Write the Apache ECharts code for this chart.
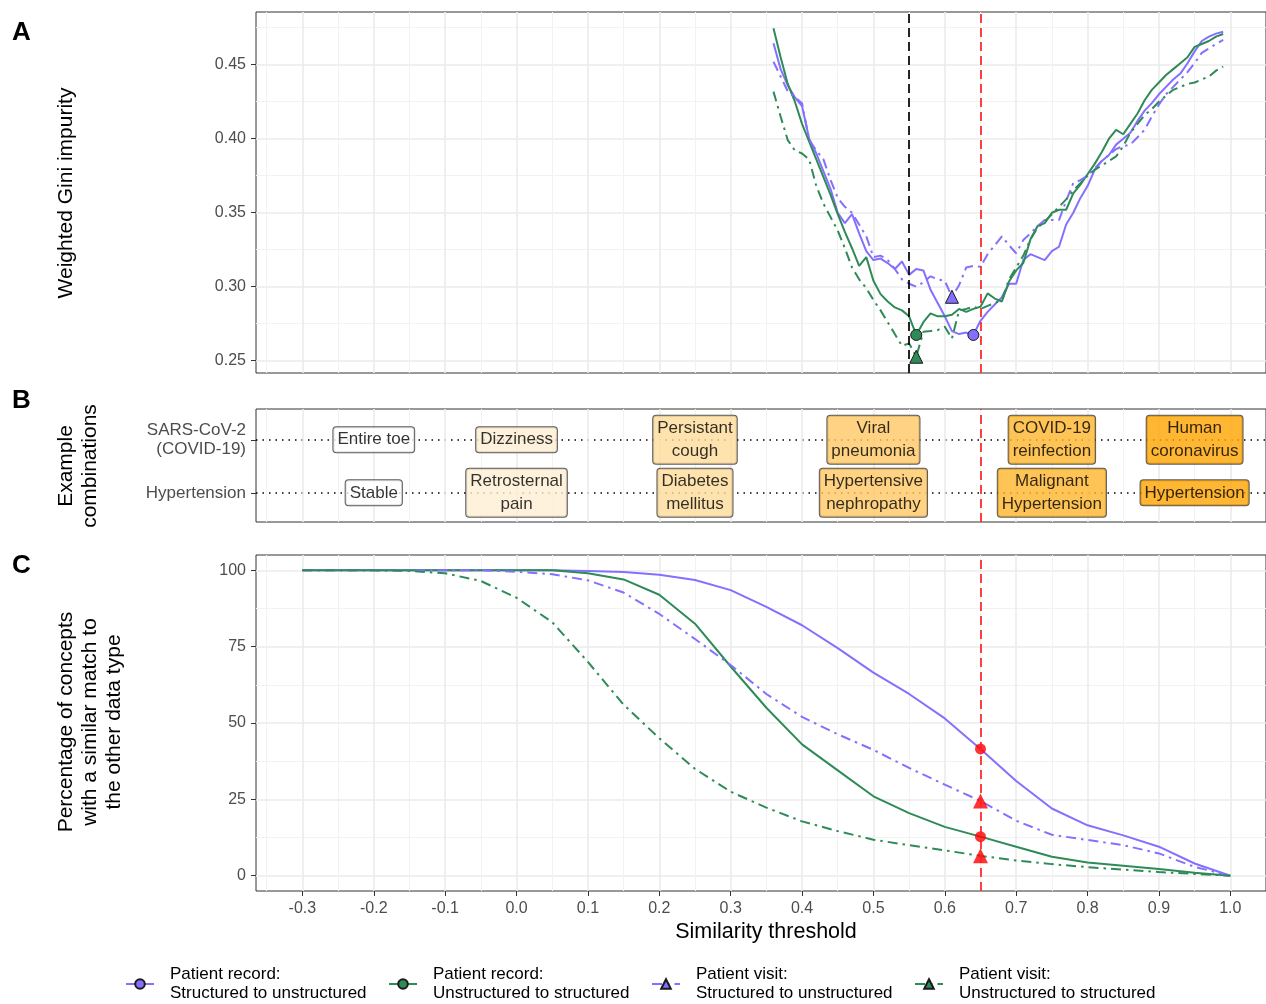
<!DOCTYPE html>
<html>
<head>
<meta charset="utf-8">
<script src="https://cdn.jsdelivr.net/npm/echarts@6/dist/echarts.min.js"></script>
<style>
  html, body { margin: 0; padding: 0; background: #fff; }
  #chart { width: 1266px; height: 1004px; }
</style>
</head>
<body>
<div id="chart"></div>
<script>
// ---- tick values ----
const xMajor = [-0.3, -0.2, -0.1, 0, 0.1, 0.2, 0.3, 0.4, 0.5, 0.6, 0.7, 0.8, 0.9, 1.0];
const xMinor = [-0.35, -0.25, -0.15, -0.05, 0.05, 0.15, 0.25, 0.35, 0.45, 0.55, 0.65, 0.75, 0.85, 0.95, 1.05];
const giniMajor = [0.25, 0.30, 0.35, 0.40, 0.45];
const giniMinor = [0.275, 0.325, 0.375, 0.425, 0.475];
const pctMajor = [0, 25, 50, 75, 100];
const pctMinor = [12.5, 37.5, 62.5, 87.5];

const threshold = 0.65;   // red dashed line
const refLine = 0.55;     // black dashed line (panel A)

// ---- panel A: weighted Gini impurity by similarity threshold ----
const giniRecS2U = [[0.36,0.4645],[0.37,0.447],[0.38,0.436],[0.39,0.428],[0.40,0.422],[0.41,0.400],[0.42,0.390],[0.43,0.378],[0.44,0.366],[0.45,0.350],[0.46,0.343],[0.47,0.349],[0.48,0.336],[0.49,0.324],[0.50,0.318],[0.51,0.319],[0.52,0.316],[0.53,0.312],[0.54,0.317],[0.55,0.308],[0.56,0.312],[0.57,0.311],[0.58,0.298],[0.59,0.289],[0.60,0.280],[0.61,0.270],[0.62,0.268],[0.63,0.269],[0.64,0.2674],[0.65,0.277],[0.66,0.283],[0.67,0.288],[0.68,0.293],[0.69,0.302],[0.70,0.302],[0.71,0.318],[0.72,0.322],[0.73,0.320],[0.74,0.318],[0.75,0.324],[0.76,0.327],[0.77,0.342],[0.78,0.350],[0.79,0.360],[0.80,0.368],[0.81,0.379],[0.82,0.385],[0.83,0.389],[0.84,0.396],[0.85,0.400],[0.86,0.404],[0.87,0.412],[0.88,0.419],[0.89,0.424],[0.90,0.430],[0.91,0.435],[0.92,0.440],[0.93,0.444],[0.94,0.451],[0.95,0.459],[0.96,0.466],[0.97,0.469],[0.98,0.471],[0.99,0.4723]];
const giniRecU2S = [[0.36,0.4746],[0.37,0.455],[0.38,0.437],[0.39,0.425],[0.40,0.410],[0.41,0.398],[0.42,0.386],[0.43,0.374],[0.44,0.362],[0.45,0.349],[0.46,0.337],[0.47,0.326],[0.48,0.314],[0.49,0.320],[0.50,0.304],[0.51,0.295],[0.52,0.290],[0.53,0.286],[0.54,0.284],[0.55,0.280],[0.56,0.2674],[0.57,0.276],[0.58,0.282],[0.59,0.280],[0.60,0.280],[0.61,0.281],[0.62,0.285],[0.63,0.283],[0.64,0.285],[0.65,0.2865],[0.66,0.2955],[0.67,0.292],[0.68,0.290],[0.69,0.3035],[0.70,0.311],[0.71,0.316],[0.72,0.332],[0.73,0.341],[0.74,0.343],[0.75,0.350],[0.76,0.352],[0.77,0.352],[0.78,0.363],[0.79,0.369],[0.80,0.376],[0.81,0.383],[0.82,0.391],[0.83,0.400],[0.84,0.406],[0.85,0.403],[0.86,0.410],[0.87,0.417],[0.88,0.426],[0.89,0.433],[0.90,0.438],[0.91,0.443],[0.92,0.447],[0.93,0.451],[0.94,0.455],[0.95,0.462],[0.96,0.464],[0.97,0.466],[0.98,0.469],[0.99,0.4707]];
const giniVisS2U = [[0.36,0.452],[0.37,0.442],[0.38,0.432],[0.39,0.428],[0.40,0.424],[0.41,0.399],[0.42,0.392],[0.43,0.386],[0.44,0.372],[0.45,0.360],[0.46,0.354],[0.47,0.350],[0.48,0.342],[0.49,0.334],[0.50,0.320],[0.51,0.321],[0.52,0.318],[0.53,0.312],[0.54,0.305],[0.55,0.302],[0.56,0.300],[0.57,0.303],[0.58,0.307],[0.59,0.305],[0.60,0.304],[0.61,0.2932],[0.62,0.301],[0.63,0.313],[0.64,0.314],[0.65,0.3135],[0.66,0.322],[0.67,0.328],[0.68,0.334],[0.69,0.328],[0.70,0.3226],[0.71,0.3315],[0.72,0.336],[0.73,0.341],[0.74,0.345],[0.75,0.345],[0.76,0.345],[0.77,0.358],[0.78,0.370],[0.79,0.372],[0.80,0.375],[0.81,0.380],[0.82,0.385],[0.83,0.389],[0.84,0.393],[0.85,0.395],[0.86,0.396],[0.87,0.401],[0.88,0.406],[0.89,0.415],[0.90,0.423],[0.91,0.430],[0.92,0.435],[0.93,0.440],[0.94,0.445],[0.95,0.451],[0.96,0.458],[0.97,0.461],[0.98,0.464],[0.99,0.4667]];
const giniVisU2S = [[0.36,0.4318],[0.37,0.415],[0.38,0.399],[0.39,0.392],[0.40,0.390],[0.41,0.386],[0.42,0.368],[0.43,0.356],[0.44,0.347],[0.45,0.338],[0.46,0.326],[0.47,0.313],[0.48,0.305],[0.49,0.299],[0.50,0.291],[0.51,0.284],[0.52,0.276],[0.53,0.268],[0.54,0.260],[0.55,0.2617],[0.56,0.2527],[0.57,0.2696],[0.58,0.270],[0.59,0.2707],[0.60,0.273],[0.61,0.265],[0.62,0.284],[0.63,0.285],[0.64,0.2865],[0.65,0.285],[0.66,0.287],[0.67,0.289],[0.68,0.291],[0.69,0.305],[0.70,0.313],[0.71,0.321],[0.72,0.332],[0.73,0.340],[0.74,0.344],[0.75,0.349],[0.76,0.354],[0.77,0.359],[0.78,0.365],[0.79,0.370],[0.80,0.375],[0.81,0.379],[0.82,0.382],[0.83,0.385],[0.84,0.388],[0.85,0.395],[0.86,0.404],[0.87,0.410],[0.88,0.416],[0.89,0.420],[0.90,0.425],[0.91,0.429],[0.92,0.433],[0.93,0.435],[0.94,0.437],[0.95,0.438],[0.96,0.440],[0.97,0.442],[0.98,0.446],[0.99,0.4487]];

// ---- panel B: example combinations ----
const bX = [-0.2, 0, 0.25, 0.5, 0.75, 0.95];
const rowNames = ['Hypertension', 'SARS-CoV-2\n(COVID-19)'];
const covidTerms = ['Entire toe', 'Dizziness', 'Persistant\ncough', 'Viral\npneumonia', 'COVID-19\nreinfection', 'Human\ncoronavirus'];
const hyperTerms = ['Stable', 'Retrosternal\npain', 'Diabetes\nmellitus', 'Hypertensive\nnephropathy', 'Malignant\nHypertension', 'Hypertension'];

// ---- panel C: % of concepts with a similar match ----
const simX = [-0.3,-0.25,-0.2,-0.15,-0.1,-0.05,0,0.05,0.1,0.15,0.2,0.25,0.3,0.35,0.4,0.45,0.5,0.55,0.6,0.65,0.7,0.75,0.8,0.85,0.9,0.95,1.0];
const pctRecS2U = [100,100,100,100,100,100,100,100,99.8,99.4,98.5,96.8,93.5,88,82,74.5,66.5,59.5,51.5,41.5,31,22,16.5,13.2,9.5,4,0];
const pctRecU2S = [100,100,100,100,100,100,100,100,99,97,92,82.5,68.5,55,43,34.5,26,20.5,16,12.8,9.5,6.2,4.3,3.3,2.2,1,0];
const pctVisS2U = [100,100,100,100,100,100,99.5,98.7,96.7,92.7,85.7,77.5,69,59.5,52,46.3,41.2,35.3,29.8,24.5,18,13.4,11.7,10,7.3,2.9,0];
const pctVisU2S = [100,100,100,99.8,99,96.5,91,83,70,56,45,35,27.5,22.3,17.8,14.6,11.8,10,8.3,6.5,5,3.8,2.8,2,1.2,0.6,0];

const FONT = 'Liberation Sans, Arial, sans-serif';
const PURPLE = '#8470FF';
const GREEN = '#2E8B57';
const DOTDASH = [10, 5, 2.5, 5];

const groups = [
  {name: 'Patient record:\nStructured to unstructured', color: PURPLE, dash: 'solid', symbol: 'circle', gini: giniRecS2U, pct: pctRecS2U},
  {name: 'Patient record:\nUnstructured to structured', color: GREEN, dash: 'solid', symbol: 'circle', gini: giniRecU2S, pct: pctRecU2S},
  {name: 'Patient visit:\nStructured to unstructured', color: PURPLE, dash: DOTDASH, symbol: 'triangle', gini: giniVisS2U, pct: pctVisS2U},
  {name: 'Patient visit:\nUnstructured to structured', color: GREEN, dash: DOTDASH, symbol: 'triangle', gini: giniVisU2S, pct: pctVisU2S}
];

const X_MIN = -0.365, X_MAX = 1.05;

function boxFill(x) {
  const t = Math.max(0, Math.min(1, (x - bX[0]) / (bX[bX.length - 1] - bX[0])));
  return 'rgb(255,' + Math.round(255 - t * 90) + ',' + Math.round(255 - t * 255) + ')';
}

function argMin(pairs) {
  let best = pairs[0];
  pairs.forEach(p => { if (p[1] < best[1]) best = p; });
  return best;
}

const tickLabel = {color: '#4D4D4D', fontSize: 16, fontFamily: FONT};
const majorGrid = {show: true, lineStyle: {color: '#EBEBEB', width: 1.6}};
const minorGrid = {show: true, lineStyle: {color: '#F2F2F2', width: 1}};
const noLine = {show: false, onZero: false};

function xAxes(gi, labelled) {
  return [
    {type: 'value', gridIndex: gi, position: 'bottom', min: X_MIN, max: X_MAX,
     axisLine: noLine,
     axisTick: {show: labelled, customValues: xMajor, length: 5, lineStyle: {color: '#333', width: 1}},
     axisLabel: {show: labelled, customValues: xMajor, formatter: v => v.toFixed(1), margin: 10, ...tickLabel},
     splitLine: majorGrid},
    {type: 'value', gridIndex: gi, min: X_MIN, max: X_MAX,
     axisLine: noLine, axisTick: {show: false, customValues: xMinor},
     axisLabel: {show: false}, splitLine: minorGrid}
  ];
}

function yAxes(gi, min, max, major, minor, fmt) {
  return [
    {type: 'value', gridIndex: gi, position: 'left', min: min, max: max,
     axisLine: noLine,
     axisTick: {show: true, customValues: major, length: 5, lineStyle: {color: '#333', width: 1}},
     axisLabel: {customValues: major, formatter: fmt, margin: 10, ...tickLabel},
     splitLine: majorGrid},
    {type: 'value', gridIndex: gi, min: min, max: max,
     axisLine: noLine, axisTick: {show: false, customValues: minor},
     axisLabel: {show: false}, splitLine: minorGrid}
  ];
}

const vLine = (x, color) => ({xAxis: x, lineStyle: {color: color, type: [9, 5], width: 1.7}});
const markLineBase = {silent: true, symbol: ['none', 'none'], label: {show: false}, animation: false};

const series = [];

// panel A lines + minima
groups.forEach((g, i) => {
  series.push({
    type: 'line', name: g.name, xAxisIndex: 0, yAxisIndex: 0,
    data: g.gini, symbol: g.symbol, symbolSize: 10, showSymbol: false,
    itemStyle: {color: g.color, borderColor: '#1a1a1a', borderWidth: 1},
    lineStyle: {color: g.color, width: 2, type: g.dash},
    markLine: i === 0 ? Object.assign({}, markLineBase, {data: [vLine(refLine, '#000'), vLine(threshold, '#FF2020')]}) : undefined,
    z: 3
  });
});
groups.forEach(g => {
  series.push({
    type: 'scatter', name: 'min-' + g.name, xAxisIndex: 0, yAxisIndex: 0,
    data: [argMin(g.gini)], symbol: g.symbol, symbolSize: g.symbol === 'circle' ? 11 : 13,
    itemStyle: {color: g.color, borderColor: '#1a1a1a', borderWidth: 1, opacity: 1},
    z: 4
  });
});

// panel B labels
function rowSeries(terms, row, withLine) {
  return {
    type: 'scatter', name: 'row' + row, xAxisIndex: 2, yAxisIndex: 2,
    symbol: 'rect', symbolSize: 1, itemStyle: {color: 'rgba(0,0,0,0)'}, z: 5, silent: true,
    label: {show: true, position: 'inside', formatter: '{b}', color: '#000', fontSize: 17, fontFamily: FONT,
            lineHeight: 23, padding: [1, 4], borderColor: '#333', borderWidth: 1, borderRadius: 3},
    data: terms.map((t, i) => ({name: t, value: [bX[i], row], label: {backgroundColor: boxFill(bX[i])}})),
    markLine: withLine ? Object.assign({}, markLineBase, {data: [vLine(threshold, '#FF2020')]}) : undefined
  };
}
series.push(rowSeries(covidTerms, 2, true));
series.push(rowSeries(hyperTerms, 1, false));

// panel C lines
groups.forEach((g, i) => {
  series.push({
    type: 'line', name: g.name, xAxisIndex: 4, yAxisIndex: 3,
    data: simX.map((x, k) => [x, g.pct[k]]), symbol: g.symbol, symbolSize: 10, showSymbol: false,
    itemStyle: {color: g.color, borderColor: '#1a1a1a', borderWidth: 1},
    lineStyle: {color: g.color, width: 2, type: g.dash},
    markLine: i === 0 ? Object.assign({}, markLineBase, {data: [vLine(threshold, '#FF2020')]}) : undefined,
    z: 3
  });
});
const thIdx = simX.indexOf(threshold);
groups.forEach(g => {
  series.push({
    type: 'scatter', name: 'th-' + g.name, xAxisIndex: 4, yAxisIndex: 3,
    data: [[threshold, g.pct[thIdx]]], symbol: g.symbol, symbolSize: g.symbol === 'circle' ? 11 : 15,
    itemStyle: {color: '#FF0000'}, z: 4
  });
});

const textStyle = (size, extra) => Object.assign({fontSize: size, fontFamily: FONT, fill: '#000', align: 'center', verticalAlign: 'middle'}, extra || {});

const option = {
  animation: false,
  backgroundColor: '#fff',
  grid: [
    {left: 256, top: 12, right: 0, height: 361, show: true, borderColor: '#333', borderWidth: 1, backgroundColor: '#fff'},
    {left: 256, top: 409, right: 0, height: 113, show: true, borderColor: '#333', borderWidth: 1, backgroundColor: '#fff'},
    {left: 256, top: 555, right: 0, height: 336, show: true, borderColor: '#333', borderWidth: 1, backgroundColor: '#fff'}
  ],
  xAxis: [].concat(xAxes(0, false), xAxes(1, false), xAxes(2, true)),
  yAxis: [].concat(
    yAxes(0, 0.2417, 0.4856, giniMajor, giniMinor, v => v.toFixed(2)),
    [{type: 'value', gridIndex: 1, position: 'left', min: 0.45, max: 2.58,
      axisLine: noLine,
      axisTick: {show: true, customValues: [1, 2], length: 5, lineStyle: {color: '#333', width: 1}},
      axisLabel: {customValues: [1, 2], formatter: v => rowNames[Math.round(v) - 1], margin: 10, lineHeight: 19, ...tickLabel, fontSize: 17},
      splitLine: {show: true, lineStyle: {color: '#000', width: 1.5, type: [1.5, 5]}}}],
    yAxes(2, -5, 105, pctMajor, pctMinor, v => String(v))
  ),
  legend: {
    data: groups.map(g => g.name),
    left: 120, top: 960, itemWidth: 28, itemHeight: 12, itemGap: 18,
    textStyle: {fontFamily: FONT, fontSize: 17, lineHeight: 19, color: '#000', width: 200, padding: [0, 0, 0, 11]}
  },
  graphic: [
    {type: 'text', x: 12, y: 33, style: textStyle(26, {text: 'A', fontWeight: 'bold', align: 'left'})},
    {type: 'text', x: 12, y: 401, style: textStyle(26, {text: 'B', fontWeight: 'bold', align: 'left'})},
    {type: 'text', x: 12, y: 566, style: textStyle(26, {text: 'C', fontWeight: 'bold', align: 'left'})},
    {type: 'text', x: 66, y: 193, rotation: Math.PI / 2, style: textStyle(21, {text: 'Weighted Gini impurity'})},
    {type: 'text', x: 78, y: 466, rotation: Math.PI / 2, style: textStyle(21, {text: 'Example\ncombinations', lineHeight: 24})},
    {type: 'text', x: 90, y: 722, rotation: Math.PI / 2, style: textStyle(21, {text: 'Percentage of concepts\nwith a similar match to\nthe other data type', lineHeight: 24})},
    {type: 'text', x: 766, y: 932, style: textStyle(21.5, {text: 'Similarity threshold'})}
  ],
  series: series
};

const chart = echarts.init(document.getElementById('chart'));
chart.setOption(option);
</script>
</body>
</html>
